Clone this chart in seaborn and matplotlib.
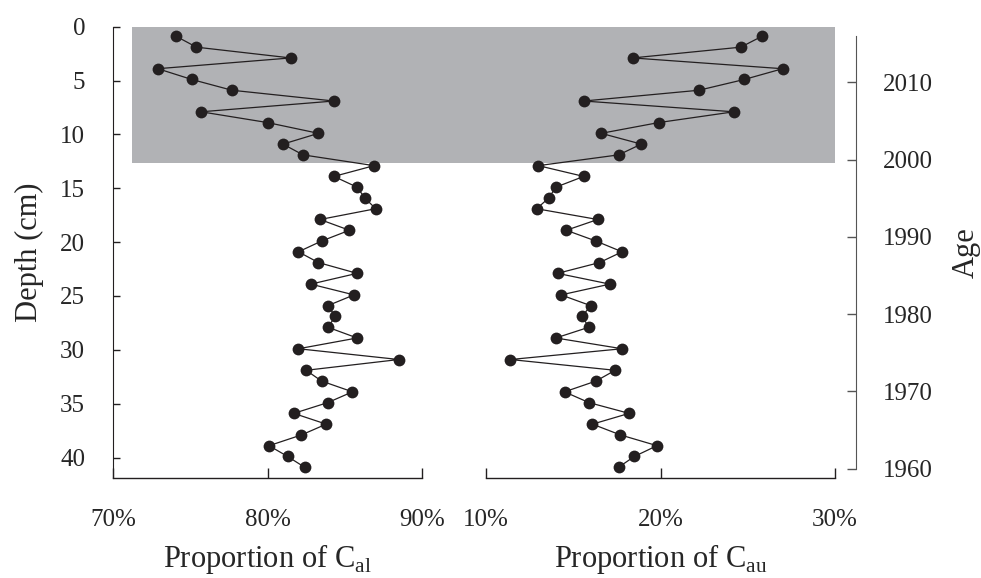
import numpy as np
import pandas as pd
import seaborn as sns
import matplotlib.pyplot as plt
from matplotlib.patches import Rectangle

# depth of each sample (cm)
depth = [0.9, 1.9, 2.9, 3.9, 4.9, 5.9, 6.9, 7.9, 8.9, 9.9,
         10.9, 11.9, 12.9, 13.9, 14.9, 15.9, 16.9, 17.9, 18.9, 19.9,
         20.9, 21.9, 22.9, 23.9, 24.9, 25.9, 26.9, 27.9, 28.9, 29.9,
         30.9, 31.9, 32.9, 33.9, 34.9, 35.9, 36.9, 37.9, 38.9, 39.9, 40.9]

# proportion of C_al (%)
c_al = [74.1, 75.4, 81.5, 72.9, 75.1, 77.7, 84.3, 75.7, 80.0, 83.3,
        81.0, 82.3, 86.9, 84.3, 85.8, 86.3, 87.0, 83.4, 85.3, 83.5,
        82.0, 83.3, 85.8, 82.8, 85.6, 83.9, 84.4, 83.9, 85.8, 82.0,
        88.5, 82.5, 83.5, 85.5, 83.9, 81.7, 83.8, 82.2, 80.1, 81.3, 82.4]

# proportion of C_au (%)
c_au = [25.8, 24.6, 18.4, 27.0, 24.8, 22.2, 15.6, 24.2, 19.9, 16.6,
        18.9, 17.6, 13.0, 15.6, 14.0, 13.6, 12.9, 16.4, 14.6, 16.3,
        17.8, 16.5, 14.1, 17.1, 14.3, 16.0, 15.5, 15.9, 14.0, 17.8,
        11.4, 17.4, 16.3, 14.5, 15.9, 18.2, 16.1, 17.7, 19.8, 18.5, 17.6]

age_ticks = [1960, 1970, 1980, 1990, 2000, 2010]
shade_depth = 12.7   # shaded recent section
shade_left = 71.2    # shade starts at this % on the left panel

df = pd.DataFrame({"depth": depth, "c_al": c_al, "c_au": c_au})

sns.set_style("white")
plt.rcParams["font.family"] = ["Liberation Serif", "DejaVu Serif"]
plt.rcParams["mathtext.fontset"] = "custom"
plt.rcParams["mathtext.rm"] = "Liberation Serif"

W, H = 981, 578
fig = plt.figure(figsize=(W / 100, H / 100), dpi=100)

def box(x0, x1, ytop, ybot):
    return [x0 / W, 1 - ybot / H, (x1 - x0) / W, (ybot - ytop) / H]

ax1 = fig.add_axes(box(113, 422, 26.7, 478))
ax2 = fig.add_axes(box(486, 835, 26.7, 478))
ax3 = fig.add_axes(box(486, 856, 36, 468.7))

ink = "#231f20"
tick_fs = 18
label_fs = 22

for ax, col, lim in [(ax1, "c_al", (70, 90)), (ax2, "c_au", (10, 30))]:
    sns.lineplot(data=df, x=col, y="depth", sort=False, estimator=None,
                 color=ink, linewidth=0.9, marker="o", markersize=8.5,
                 markeredgewidth=0, ax=ax)
    ax.set_xlim(*lim)
    ax.set_ylim(41.9, 0)
    ax.set_xticks(np.arange(lim[0], lim[1] + 1, 10))
    ax.set_xticklabels([f"{v}%" for v in range(lim[0], lim[1] + 1, 10)])
    ax.patch.set_alpha(0)
    for s in ["top", "right"]:
        ax.spines[s].set_visible(False)
    ax.spines["bottom"].set_color(ink)
    ax.spines["bottom"].set_linewidth(1)
    ax.tick_params(axis="x", direction="in", length=7, width=1, color=ink,
                   pad=22, labelsize=tick_fs, bottom=True)

ax1.set_yticks([0, 5, 10, 15, 20, 25, 30, 35, 40])
ax1.spines["left"].set_color(ink)
ax1.tick_params(axis="y", direction="in", length=5, width=1, color=ink,
                pad=20, labelsize=tick_fs, left=True)
ax1.set_ylabel("Depth (cm)", fontsize=label_fs, labelpad=12)
ax1.set_xlabel(r"Proportion of C$_{\mathrm{al}}$", fontsize=label_fs, labelpad=8)

ax2.spines["left"].set_visible(False)
ax2.set_yticks([])
ax2.set_ylabel("")
ax2.set_xlabel(r"Proportion of C$_{\mathrm{au}}$", fontsize=label_fs, labelpad=8)

# age axis
ax3.patch.set_alpha(0)
for s in ["top", "left", "bottom"]:
    ax3.spines[s].set_visible(False)
ax3.spines["right"].set_color("#555555")
ax3.set_xticks([])
ax3.set_ylim(1960, 2016)
ax3.yaxis.tick_right()
ax3.yaxis.set_label_position("right")
ax3.set_yticks(age_ticks)
ax3.tick_params(axis="y", direction="in", length=6.5, width=1, color="#555555",
                pad=19, labelsize=tick_fs, right=True)
ax3.set_ylabel("Age", fontsize=label_fs, labelpad=14)

# grey shading across both panels
fig.canvas.draw()
inv = fig.transFigure.inverted()
x0, y0 = inv.transform(ax1.transData.transform((shade_left, shade_depth)))
x1, y1 = inv.transform(ax2.transData.transform((30, 0)))
fig.patches.append(Rectangle((x0, y0), x1 - x0, y1 - y0, transform=fig.transFigure,
                             facecolor="#b1b2b5", edgecolor="none", zorder=-1))

fig.savefig("out.png", dpi=100)
